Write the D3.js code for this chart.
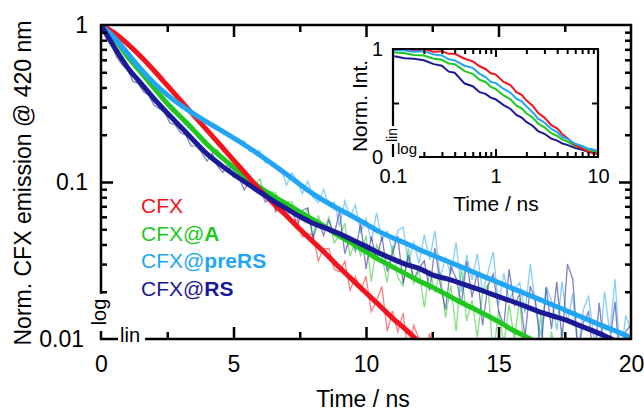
<!DOCTYPE html>
<meta charset="utf-8">
<head>
  <title>CFX emission decays</title>
</head>

<style>
  body { margin: 0; background: #fff; }
  svg text { font-family: "Liberation Sans", Arial, sans-serif; }
</style>

<body>

<div id="my_dataviz"></div>

<script src="https://d3js.org/d3.v7.min.js"></script>

<script>

// samples, legend order
var seriesNames = ["CFX", "CFX@A", "CFX@preRS", "CFX@RS"];
var seriesColors = ["#f5141e", "#1ec81e", "#23a5f5", "#1a1a96"];

// fitted decays, one value every 0.5 ns starting at t = 0
var fitCFX = [1, 0.891, 0.759, 0.631, 0.513, 0.412, 0.331, 0.266, 0.214, 0.172, 0.138, 0.111, 0.0891, 0.0733, 0.0610, 0.0501, 0.0417, 0.0347, 0.0285, 0.0237, 0.0197, 0.0164, 0.0136, 0.0115, 0.00955, 0.00794];
var fitA = [1, 0.822, 0.631, 0.501, 0.398, 0.316, 0.260, 0.214, 0.174, 0.146, 0.124, 0.106, 0.0923, 0.0813, 0.0724, 0.0646, 0.0575, 0.0513, 0.0452, 0.0403, 0.0359, 0.0320, 0.0288, 0.0260, 0.0234, 0.0214, 0.0193, 0.0174, 0.0158, 0.0143, 0.0129, 0.0115, 0.0104, 0.00933];
var fitPreRS = [1, 0.832, 0.661, 0.525, 0.427, 0.359, 0.309, 0.272, 0.241, 0.215, 0.191, 0.169, 0.148, 0.129, 0.112, 0.0968, 0.0841, 0.0746, 0.0668, 0.0603, 0.0540, 0.0483, 0.0442, 0.0407, 0.0372, 0.0343, 0.0316, 0.0292, 0.0269, 0.0248, 0.0229, 0.0211, 0.0195, 0.0180, 0.0166, 0.0153, 0.0141, 0.0130, 0.0120, 0.0111, 0.0102];
var fitRS = [1, 0.724, 0.537, 0.427, 0.339, 0.275, 0.225, 0.184, 0.151, 0.129, 0.112, 0.0982, 0.0861, 0.0759, 0.0676, 0.0603, 0.0546, 0.0506, 0.0468, 0.0427, 0.0389, 0.0353, 0.0324, 0.0299, 0.0282, 0.0256, 0.0243, 0.0229, 0.0214, 0.0200, 0.0186, 0.0174, 0.0162, 0.0150, 0.0141, 0.0133, 0.0123, 0.0114, 0.0105, 0.00955, 0.0089];

// measured decays, one value every 0.2 ns starting at t = 0
var rawCFX = [1.000, 0.970, 0.910, 0.875, 0.810, 0.746, 0.710, 0.656, 0.597, 0.565,
  0.509, 0.474, 0.423, 0.396, 0.365, 0.328, 0.299, 0.282, 0.254, 0.235,
  0.207, 0.201, 0.181, 0.157, 0.155, 0.136, 0.131, 0.113, 0.105, 0.102,
  0.0831, 0.0834, 0.0798, 0.0644, 0.0711, 0.0583, 0.0561, 0.0578, 0.0446, 0.0465,
  0.0462, 0.0315, 0.0375, 0.0377, 0.0278, 0.0268, 0.0313, 0.0204, 0.0249, 0.0203,
  0.0251, 0.0149, 0.0176, 0.0216, 0.0112, 0.0151, 0.0111, 0.0146, 0.0079, 0.0122,
  0.0100, 0.0070, 0.0109, 0.0069];
var rawA = [1.000, 0.928, 0.851, 0.785, 0.697, 0.634, 0.571, 0.528, 0.476, 0.440,
  0.395, 0.366, 0.328, 0.306, 0.278, 0.262, 0.237, 0.224, 0.203, 0.191,
  0.169, 0.160, 0.160, 0.137, 0.134, 0.127, 0.112, 0.113, 0.101, 0.0968,
  0.1045, 0.0796, 0.0869, 0.0851, 0.0661, 0.0744, 0.0752, 0.0617, 0.0605, 0.0674,
  0.0458, 0.0609, 0.0499, 0.0597, 0.0408, 0.0464, 0.0541, 0.0337, 0.0425, 0.0340,
  0.0454, 0.0232, 0.0398, 0.0338, 0.0229, 0.0394, 0.0246, 0.0218, 0.0377, 0.0226,
  0.0274, 0.0159, 0.0276, 0.0201, 0.0264, 0.0137, 0.0220, 0.0112, 0.0287, 0.0130,
  0.0177, 0.0102, 0.0195, 0.0222, 0.0075, 0.0153, 0.0092, 0.0165, 0.0100, 0.0181,
  0.0069, 0.0105, 0.0075, 0.0144, 0.0052, 0.0112, 0.0068, 0.0117];
var rawPreRS = [1.000, 0.932, 0.860, 0.797, 0.721, 0.664, 0.599, 0.553, 0.501, 0.466,
  0.424, 0.401, 0.369, 0.351, 0.325, 0.312, 0.291, 0.282, 0.262, 0.256,
  0.238, 0.233, 0.217, 0.212, 0.198, 0.196, 0.180, 0.182, 0.157, 0.157,
  0.157, 0.132, 0.135, 0.122, 0.123, 0.0953, 0.114, 0.1028, 0.0841, 0.1014,
  0.0801, 0.0740, 0.0898, 0.0706, 0.0745, 0.0521, 0.0756, 0.0598, 0.0714, 0.0478,
  0.0586, 0.0415, 0.0637, 0.0428, 0.0486, 0.0364, 0.0491, 0.0516, 0.0304, 0.0418,
  0.0302, 0.0462, 0.0320, 0.0489, 0.0245, 0.0329, 0.0259, 0.0412, 0.0198, 0.0342,
  0.0238, 0.0349, 0.0197, 0.0265, 0.0359, 0.0164, 0.0262, 0.0175, 0.0208, 0.0228,
  0.0146, 0.0300, 0.0163, 0.0105, 0.0215, 0.0176, 0.0114, 0.0233, 0.0127, 0.0195,
  0.0079, 0.0154, 0.0187, 0.0102, 0.0078, 0.0201, 0.0109, 0.0240, 0.0073, 0.0141,
  0.0114];
var rawRS = [1.000, 0.828, 0.741, 0.622, 0.557, 0.520, 0.439, 0.425, 0.376, 0.359,
  0.308, 0.293, 0.279, 0.238, 0.231, 0.206, 0.199, 0.170, 0.169, 0.154,
  0.136, 0.152, 0.126, 0.115, 0.130, 0.107, 0.108, 0.089, 0.100, 0.0877,
  0.0912, 0.0746, 0.0787, 0.0660, 0.0767, 0.0617, 0.0676, 0.0525, 0.0662, 0.0683,
  0.0434, 0.0568, 0.0458, 0.0572, 0.0461, 0.0652, 0.0349, 0.0451, 0.0362, 0.0543,
  0.0279, 0.0450, 0.0322, 0.0449, 0.0269, 0.0349, 0.0452, 0.0226, 0.0342, 0.0240,
  0.0282, 0.0315, 0.0203, 0.0380, 0.0224, 0.0154, 0.0290, 0.0244, 0.0167, 0.0314,
  0.0184, 0.0268, 0.0122, 0.0218, 0.0259, 0.0152, 0.0121, 0.0278, 0.0163, 0.0194,
  0.0103, 0.0217, 0.0173, 0.0083, 0.0213, 0.0116, 0.0231, 0.0098, 0.0300, 0.0242,
  0.0084, 0.0127, 0.0149, 0.0067, 0.0170, 0.0081, 0.0095, 0.0173, 0.0060, 0.0112,
  0.0123];

// inset (lin y, log time)
var insetTime = [0.1, 0.13, 0.16, 0.2, 0.25, 0.3, 0.35, 0.4, 0.5, 0.6, 0.7, 0.8, 0.9, 1, 1.2, 1.4, 1.6, 1.8, 2, 2.3, 2.6, 3, 3.5, 4, 4.5, 5, 6, 7, 8, 9, 10];
var insetCFX = [0.99, 1.00, 0.98, 1.00, 0.975, 0.98, 0.955, 0.955, 0.91, 0.885, 0.84, 0.815, 0.775, 0.765, 0.695, 0.665, 0.60, 0.575, 0.525, 0.475, 0.41, 0.365, 0.295, 0.265, 0.21, 0.175, 0.11, 0.078, 0.048, 0.037, 0.025];
var insetA = [0.97, 0.96, 0.945, 0.94, 0.91, 0.90, 0.865, 0.86, 0.795, 0.77, 0.715, 0.695, 0.65, 0.63, 0.57, 0.535, 0.475, 0.45, 0.405, 0.365, 0.31, 0.275, 0.22, 0.195, 0.16, 0.145, 0.10, 0.088, 0.063, 0.055, 0.045];
var insetPreRS = [0.99, 0.985, 0.975, 0.98, 0.95, 0.94, 0.905, 0.895, 0.845, 0.825, 0.77, 0.74, 0.695, 0.685, 0.63, 0.595, 0.54, 0.515, 0.47, 0.415, 0.355, 0.32, 0.26, 0.23, 0.185, 0.168, 0.122, 0.102, 0.078, 0.07, 0.055];
var insetRS = [0.935, 0.915, 0.91, 0.895, 0.86, 0.845, 0.79, 0.78, 0.68, 0.655, 0.60, 0.585, 0.55, 0.535, 0.48, 0.445, 0.39, 0.365, 0.325, 0.29, 0.24, 0.215, 0.17, 0.152, 0.125, 0.112, 0.083, 0.066, 0.049, 0.041, 0.032];

// ticks
var xLabels = [0, 5, 10, 15, 20];
var xMajor = [5, 10, 15];
var xMinor = [2.5, 7.5, 12.5, 17.5];
var yLabels = [1, 0.1, 0.01];
var yMinor = [0.02, 0.03, 0.04, 0.05, 0.06, 0.07, 0.08, 0.09, 0.2, 0.3, 0.4, 0.5, 0.6, 0.7, 0.8, 0.9];
var insetXLabels = [0.1, 1, 10];
var insetXMinor = [0.2, 0.3, 0.4, 0.5, 0.6, 0.7, 0.8, 0.9, 2, 3, 4, 5, 6, 7, 8, 9];
var insetYLabels = [0, 1];

var FIT_STEP = 0.5, RAW_STEP = 0.2;
var FONT = "Liberation Sans, Arial, sans-serif";

var svg = d3.select("#my_dataviz")
  .append("svg")
    .attr("width", 644)
    .attr("height", 412);

// main plot area: 101..631 x 25..339
var x = d3.scaleLinear().domain([0, 20]).range([101, 631]);
var y = d3.scaleLog().domain([0.01, 1]).range([339, 25]);

svg.append("clipPath").attr("id", "plotclip")
  .append("rect").attr("x", 101).attr("y", 25).attr("width", 530).attr("height", 314);

function toPoints(values, step) {
  return values.map(function(v, i) { return [i * step, v]; });
}

var line = d3.line()
  .x(function(d) { return x(d[0]); })
  .y(function(d) { return y(d[1]); });

var rawSets = [rawCFX, rawA, rawPreRS, rawRS];
var fitSets = [fitCFX, fitA, fitPreRS, fitRS];

var plot = svg.append("g").attr("clip-path", "url(#plotclip)");

// noisy measured traces
plot.selectAll(".raw")
  .data(rawSets)
  .enter().append("path")
    .attr("class", "raw")
    .attr("d", function(d) { return line(toPoints(d, RAW_STEP)); })
    .attr("fill", "none")
    .attr("stroke", function(d, i) { return seriesColors[i]; })
    .attr("stroke-width", 1.3)
    .attr("stroke-opacity", 0.55);

// fits on top, drawn green, red, light blue, dark blue
var fitOrder = [1, 0, 2, 3];
var fitLine = d3.line()
  .x(function(d) { return x(d[0]); })
  .y(function(d) { return y(d[1]); })
  .curve(d3.curveMonotoneX);

plot.selectAll(".fit")
  .data(fitOrder)
  .enter().append("path")
    .attr("class", "fit")
    .attr("d", function(k) { return fitLine(toPoints(fitSets[k], FIT_STEP)); })
    .attr("fill", "none")
    .attr("stroke", function(k) { return seriesColors[k]; })
    .attr("stroke-width", 5)
    .attr("stroke-linejoin", "round");

// frame with axis breaks
svg.append("path")
  .attr("d", "M101," + (y(0.02) + 2) + "V25H631V339H145")
  .attr("fill", "none").attr("stroke", "#000").attr("stroke-width", 2.5);
svg.append("path")
  .attr("d", "M101,331V339H118")
  .attr("fill", "none").attr("stroke", "#000").attr("stroke-width", 2.5);

function styleAxis(g, size, width) {
  g.select(".domain").remove();
  g.selectAll("line").attr("stroke-width", width);
  g.attr("font-family", FONT).attr("font-size", size);
  return g;
}

var noLabel = function() { return ""; };

// bottom
styleAxis(svg.append("g").attr("transform", "translate(0,339)")
  .call(d3.axisBottom(x).tickValues(xMajor).tickSize(-12).tickFormat(noLabel)), 23, 2.5);
styleAxis(svg.append("g").attr("transform", "translate(0,339)")
  .call(d3.axisBottom(x).tickValues(xMinor).tickSize(-7).tickFormat(noLabel)), 23, 2.5);
styleAxis(svg.append("g").attr("transform", "translate(0,339)")
  .call(d3.axisBottom(x).tickValues(xLabels).tickSize(0).tickPadding(17).tickFormat(d3.format("d"))), 23, 0);
// top
styleAxis(svg.append("g").attr("transform", "translate(0,25)")
  .call(d3.axisTop(x).tickValues(xMajor).tickSize(-12).tickFormat(noLabel)), 23, 2.5);
styleAxis(svg.append("g").attr("transform", "translate(0,25)")
  .call(d3.axisTop(x).tickValues(xMinor).tickSize(-7).tickFormat(noLabel)), 23, 2.5);
// left
styleAxis(svg.append("g").attr("transform", "translate(101,0)")
  .call(d3.axisLeft(y).tickValues([0.1]).tickSize(-12).tickFormat(noLabel)), 23, 2.5);
styleAxis(svg.append("g").attr("transform", "translate(101,0)")
  .call(d3.axisLeft(y).tickValues(yMinor).tickSize(-6).tickFormat(noLabel)), 23, 2.5);
var yLab = styleAxis(svg.append("g").attr("transform", "translate(101,0)")
  .call(d3.axisLeft(y).tickValues(yLabels).tickSize(0).tickPadding(13)
    .tickFormat(function(d) { return d === 1 ? "1" : d === 0.1 ? "0.1" : "0.01"; })), 23, 0);
yLab.selectAll(".tick").filter(function(d) { return d === 0.01; })
  .select("text").attr("x", -17);
// right
styleAxis(svg.append("g").attr("transform", "translate(631,0)")
  .call(d3.axisRight(y).tickValues([0.1]).tickSize(-12).tickFormat(noLabel)), 23, 2.5);
styleAxis(svg.append("g").attr("transform", "translate(631,0)")
  .call(d3.axisRight(y).tickValues(yMinor).tickSize(-6).tickFormat(noLabel)), 23, 2.5);

// axis-type marks
svg.append("text")
  .attr("transform", "translate(106,312) rotate(-90)")
  .attr("text-anchor", "middle")
  .attr("font-size", 20)
  .text("log");
svg.append("text")
  .attr("x", 120).attr("y", 342)
  .attr("font-size", 20)
  .text("lin");

// titles
svg.append("text")
  .attr("x", 363).attr("y", 407)
  .attr("text-anchor", "middle")
  .attr("font-size", 23)
  .text("Time / ns");
svg.append("text")
  .attr("transform", "translate(31,183) rotate(-90)")
  .attr("text-anchor", "middle")
  .attr("font-size", 23)
  .text("Norm. CFX emission @ 420 nm");

// legend
var legendParts = [["CFX", ""], ["CFX@", "A"], ["CFX@", "preRS"], ["CFX@", "RS"]];
var legend = svg.append("g");
legendParts.forEach(function(p, i) {
  var t = legend.append("text")
    .attr("x", 141)
    .attr("y", 213 + i * 27.6)
    .attr("font-size", 21)
    .attr("fill", seriesColors[i]);
  t.append("tspan").text(p[0]);
  if (p[1]) t.append("tspan").attr("font-weight", "bold").text(p[1]);
});

// ---------- inset ----------
var xi = d3.scaleLog().domain([0.1, 10]).range([393, 598]);
var yi = d3.scaleLinear().domain([0, 1]).range([157, 49]);

svg.append("rect").attr("x", 393).attr("y", 49).attr("width", 205).attr("height", 108).attr("fill", "#fff");

svg.append("clipPath").attr("id", "insetclip")
  .append("rect").attr("x", 393).attr("y", 47).attr("width", 205).attr("height", 110);

var insetSets = [insetCFX, insetA, insetPreRS, insetRS];
var insetLine = d3.line()
  .x(function(d) { return xi(d[0]); })
  .y(function(d) { return yi(d[1]); });

svg.append("g").attr("clip-path", "url(#insetclip)")
  .selectAll("path")
  .data([3, 1, 0, 2])
  .enter().append("path")
    .attr("d", function(k) {
      return insetLine(insetSets[k].map(function(v, i) { return [insetTime[i], v]; }));
    })
    .attr("fill", "none")
    .attr("stroke", function(k) { return seriesColors[k]; })
    .attr("stroke-width", 2);

svg.append("path")
  .attr("d", "M393,126V49H598V157H419")
  .attr("fill", "none").attr("stroke", "#000").attr("stroke-width", 2.2);
svg.append("path")
  .attr("d", "M393,144V157")
  .attr("fill", "none").attr("stroke", "#000").attr("stroke-width", 2.2);

styleAxis(svg.append("g").attr("transform", "translate(0,157)")
  .call(d3.axisBottom(xi).tickValues(insetXMinor).tickSize(-5).tickFormat(noLabel)), 20, 2);
styleAxis(svg.append("g").attr("transform", "translate(0,157)")
  .call(d3.axisBottom(xi).tickValues([1]).tickSize(-8).tickFormat(noLabel)), 20, 2);
styleAxis(svg.append("g").attr("transform", "translate(0,49)")
  .call(d3.axisTop(xi).tickValues(insetXMinor).tickSize(-5).tickFormat(noLabel)), 20, 2);
styleAxis(svg.append("g").attr("transform", "translate(0,49)")
  .call(d3.axisTop(xi).tickValues([1]).tickSize(-8).tickFormat(noLabel)), 20, 2);
styleAxis(svg.append("g").attr("transform", "translate(393,0)")
  .call(d3.axisLeft(yi).tickValues([0.5]).tickSize(-6).tickFormat(noLabel)), 20, 2);
styleAxis(svg.append("g").attr("transform", "translate(598,0)")
  .call(d3.axisRight(yi).tickValues([0.5]).tickSize(-6).tickFormat(noLabel)), 20, 2);
styleAxis(svg.append("g").attr("transform", "translate(0,157)")
  .call(d3.axisBottom(xi).tickValues(insetXLabels).tickSize(0).tickPadding(12)
    .tickFormat(function(d) { return d === 0.1 ? "0.1" : String(d); })), 20, 0);
styleAxis(svg.append("g").attr("transform", "translate(393,0)")
  .call(d3.axisLeft(yi).tickValues(insetYLabels).tickSize(0).tickPadding(10).tickFormat(d3.format("d"))), 20, 0);

svg.append("text")
  .attr("transform", "translate(397,135) rotate(-90)")
  .attr("text-anchor", "middle")
  .attr("font-size", 14)
  .text("lin");
svg.append("text")
  .attr("x", 397).attr("y", 154)
  .attr("font-size", 15)
  .text("log");

svg.append("text")
  .attr("x", 496).attr("y", 211)
  .attr("text-anchor", "middle")
  .attr("font-size", 21)
  .text("Time / ns");
svg.append("text")
  .attr("transform", "translate(367,106) rotate(-90)")
  .attr("text-anchor", "middle")
  .attr("font-size", 21)
  .text("Norm. Int.");

</script>
</body>
</html>
